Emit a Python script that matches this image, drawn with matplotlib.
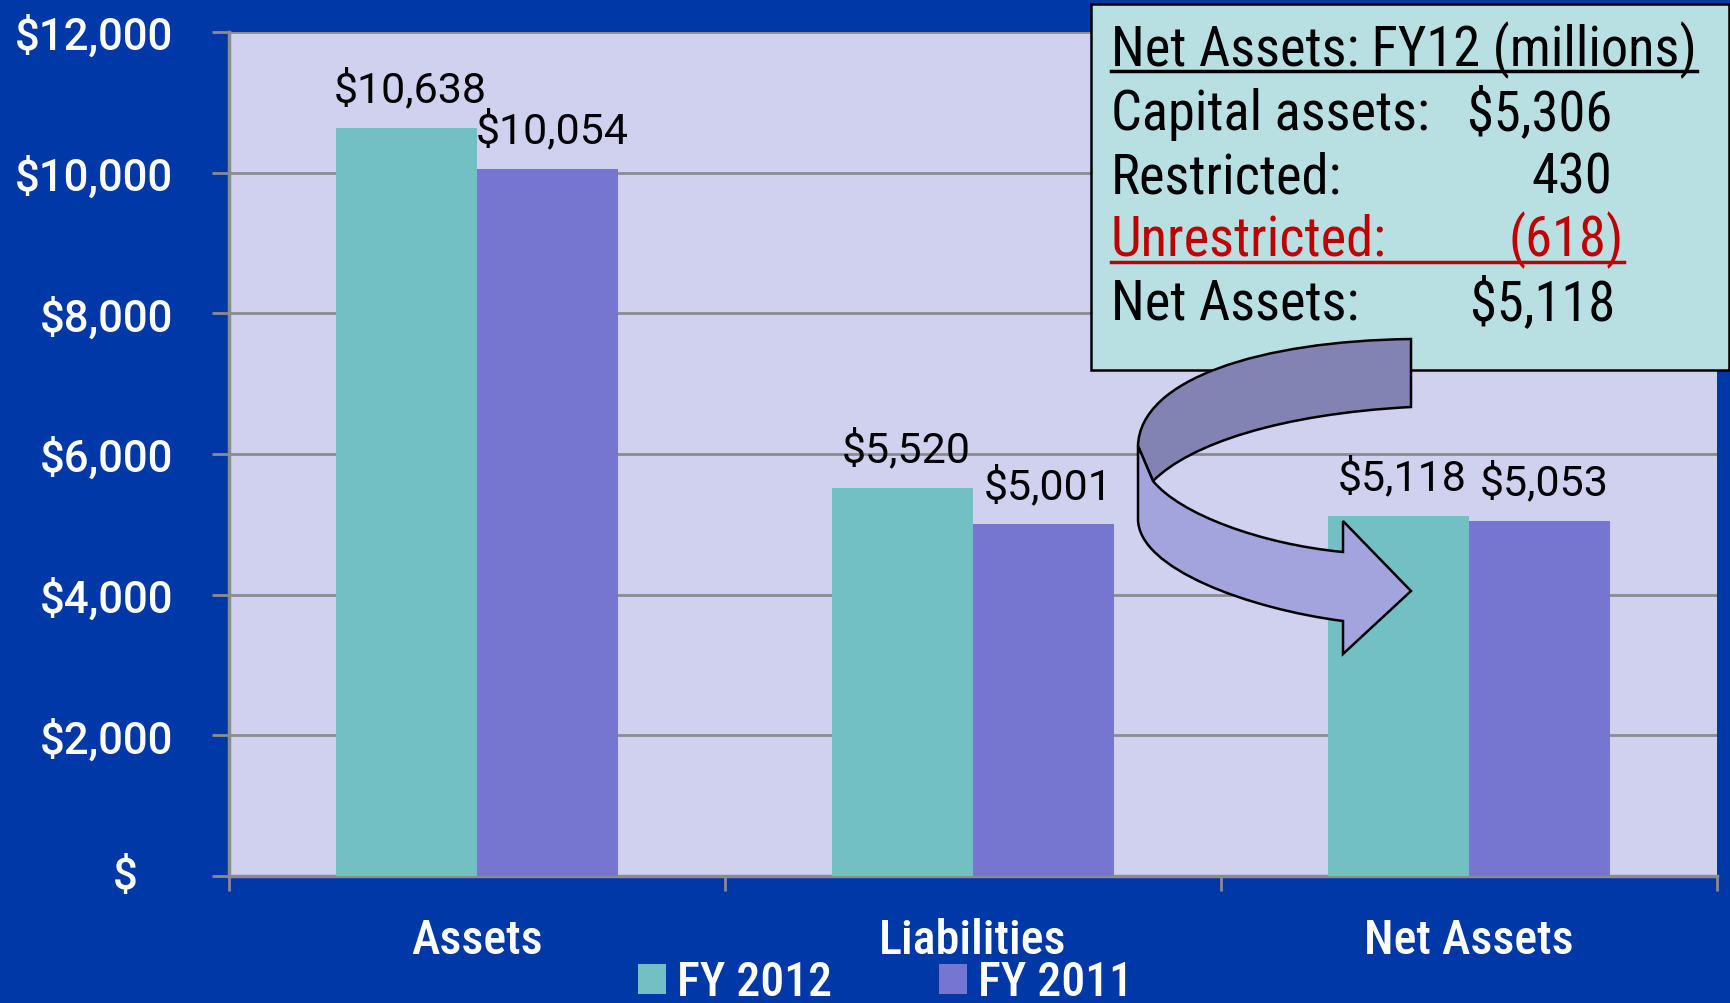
import matplotlib
matplotlib.use("Agg")
import matplotlib.pyplot as plt
from matplotlib import font_manager
from matplotlib.patches import Rectangle, PathPatch, Patch
from matplotlib.path import Path
from matplotlib.transforms import Affine2D
from matplotlib.ticker import FuncFormatter, FixedLocator
import numpy as np

# ---------------- data ----------------
categories = ["Assets", "Liabilities", "Net Assets"]
fy2012 = [10638, 5520, 5118]
fy2011 = [10054, 5001, 5053]
series_names = ["FY 2012", "FY 2011"]
y_ticks = [0, 2000, 4000, 6000, 8000, 10000, 12000]

box_title = "Net Assets: FY12 (millions)"
box_labels = ["Capital assets:", "Restricted:", "Unrestricted:", "Net Assets:"]
box_values = ["$5,306", "430", "(618)", "$5,118"]

# ---------------- styling ----------------
W, H = 1731, 1004
BG = "#0038A8"
PLOT_BG = "#D0D0EF"
TEAL = "#72BFC4"
PURPLE = "#7676D1"
BOX_BG = "#B8E0E3"
GRID = "#8C8C8C"
RED = "#C00000"

ttf = font_manager.fontManager.ttflist
names = {f.name for f in ttf}
NARROW = None
for cand in ["Liberation Sans Narrow", "Roboto Condensed", "Open Sans Condensed",
             "Noto Sans Condensed", "Arial Narrow"]:
    if cand in names:
        NARROW = dict(family=cand)
        break
if NARROW is None:
    cond = [f for f in ttf if f.stretch in ("condensed", "semi-condensed") and f.style == "normal"]
    if cond:
        NARROW = dict(family=cond[0].name, stretch=cond[0].stretch)
    elif "Roboto" in names:
        NARROW = dict(family="Roboto")
    else:
        NARROW = dict(family="DejaVu Sans")
NUMF = dict(family="Roboto") if "Roboto" in names else dict(family="DejaVu Sans")

fig = plt.figure(figsize=(W / 100, H / 100), dpi=100, facecolor=BG)
renderer = fig.canvas.get_renderer()


def size_for(text, target_px, props, ref=40, **kw):
    t = fig.text(0, 0, text, fontsize=ref, **props, **kw)
    w = t.get_window_extent(renderer).width
    t.remove()
    return ref * target_px / w


fs_cat = size_for("Net Assets", 209, NARROW, weight="medium")
fs_leg = size_for("FY 2012", 155, NARROW, weight="medium")
fs_box = size_for(box_title, 586, NARROW)

ax = fig.add_axes([229 / W, 1 - 877 / H, (1717 - 229) / W, (877 - 33) / H])
ax.set_facecolor(PLOT_BG)

x = np.arange(len(categories))
bw = 0.285
b1 = ax.bar(x - bw / 2, fy2012, bw, color=TEAL, zorder=3, label=series_names[0])
b2 = ax.bar(x + bw / 2, fy2011, bw, color=PURPLE, zorder=3, label=series_names[1])

for bars, vals in ((b1, fy2012), (b2, fy2011)):
    for rect, v in zip(bars, vals):
        ax.annotate(f"${v:,.0f}", xy=(rect.get_x() + rect.get_width() / 2, v),
                    xytext=(3, 19), textcoords="offset points",
                    ha="center", va="baseline", fontsize=31, color="black",
                    zorder=5, **NUMF)

ax.set_xlim(-0.5, 2.5)
ax.set_ylim(0, 12000)

# y axis
ax.yaxis.set_major_locator(FixedLocator(y_ticks))
ax.yaxis.set_major_formatter(FuncFormatter(lambda v, p: "" if v == 0 else f"${v:,.0f}"))
ax.tick_params(axis="y", which="major", length=12, width=2, color=GRID,
               labelcolor="white", labelsize=31.5, pad=28, direction="out")
for lab in ax.get_yticklabels():
    lab.set_fontfamily(NUMF["family"])
    lab.set_fontweight("medium")
ax.annotate("$", xy=(0, 0), xycoords=("axes fraction", "data"),
            xytext=(-75, 0), textcoords="offset points", ha="center", va="center",
            fontsize=31.5, color="white", weight="medium", annotation_clip=False, **NUMF)
ax.grid(axis="y", color=GRID, linewidth=2, zorder=1)
ax.set_axisbelow(True)

# x axis: ticks at category boundaries, labels at centers
ax.xaxis.set_major_locator(FixedLocator([-0.5, 0.5, 1.5, 2.5]))
ax.xaxis.set_major_formatter(FuncFormatter(lambda v, p: ""))
ax.xaxis.set_minor_locator(FixedLocator(list(x)))
ax.xaxis.set_minor_formatter(FuncFormatter(lambda v, p: categories[int(round(v))]))
ax.tick_params(axis="x", which="major", length=11, width=2, color=GRID, direction="out")
ax.tick_params(axis="x", which="minor", length=0, labelcolor="white", labelsize=fs_cat, pad=29.5)
for lab in ax.get_xticklabels(minor=True):
    lab.set_fontfamily(NARROW["family"])
    lab.set_fontweight("medium")
    if "stretch" in NARROW:
        lab.set_fontstretch(NARROW["stretch"])

for s in ("top", "right"):
    ax.spines[s].set_visible(False)
for s in ("left", "bottom"):
    ax.spines[s].set_color(GRID)
    ax.spines[s].set_linewidth(2.5)

# legend
handles = [Patch(facecolor=TEAL), Patch(facecolor=PURPLE)]
leg_px = fs_leg * 100 / 72
leg = fig.legend(handles, series_names, loc="center", bbox_to_anchor=(802 * 1.104 / W, 1 - 983.5 / H),
                 ncol=2, frameon=False, handlelength=28 / leg_px, handleheight=28 / leg_px,
                 handletextpad=11 / leg_px, columnspacing=107 / leg_px, borderpad=0,
                 prop=font_manager.FontProperties(size=fs_leg, weight="medium", **NARROW))
for t in leg.get_texts():
    t.set_color("white")

# ---------------- text box ----------------
def px(xp, yp):
    return xp / W, 1 - yp / H

bx0, by0, bx1, by1 = 1091, 5, 1729, 371
fig.patches.append(Rectangle(px(bx0, by1), (bx1 - bx0) / W, (by1 - by0) / H,
                             transform=fig.transFigure, facecolor=BOX_BG,
                             edgecolor="black", linewidth=1.8, zorder=5))
fig.text(*px(1111, 66), box_title, fontsize=fs_box, color="black", ha="left",
         va="baseline", zorder=6, **NARROW)
fig.add_artist(plt.Line2D([1111 / W, 1697 / W], [1 - 72 / H] * 2, transform=fig.transFigure,
                          color="black", linewidth=2.5, zorder=6))
baselines = [130, 193, 256, 320]
rights = [1612, 1612, 1624, 1615]
for lab, val, yb, xr in zip(box_labels, box_values, baselines, rights):
    c = RED if lab.startswith("Unres") else "black"
    fig.text(*px(1111, yb), lab, fontsize=fs_box, color=c, ha="left", va="baseline",
             zorder=6, **NARROW)
    fig.text(*px(xr, yb), val, fontsize=fs_box, color=c, ha="right", va="baseline",
             zorder=6, **NARROW)
fig.add_artist(plt.Line2D([1111 / W, 1624 / W], [1 - 263 / H] * 2, transform=fig.transFigure,
                          color=RED, linewidth=2.5, zorder=6))

# ---------------- curved arrow (decoration) ----------------
pix = Affine2D().scale(1 / W, -1 / H).translate(0, 1) + fig.transFigure
M, L, C, Z = Path.MOVETO, Path.LINETO, Path.CURVE4, Path.CLOSEPOLY
back_v = [(1411, 340), (1260, 342), (1140, 380), (1138, 447),
          (1153, 482), (1190, 445), (1280, 415), (1411, 408), (1411, 340)]
back_c = [M, C, C, C, L, C, C, C, Z]
front_v = [(1138, 447), (1138, 520), (1138, 570), (1250, 610), (1343, 622),
           (1343, 655), (1411, 592), (1343, 522), (1343, 553),
           (1260, 545), (1180, 515), (1153, 482), (1138, 447)]
front_c = [M, L, C, C, C, L, L, L, L, C, C, C, Z]
fig.patches.append(PathPatch(Path(back_v, back_c), transform=pix, facecolor="#8383B3",
                             edgecolor="black", linewidth=1.8, zorder=7))
fig.patches.append(PathPatch(Path(front_v, front_c), transform=pix, facecolor="#A3A3DD",
                             edgecolor="black", linewidth=1.8, zorder=8))

fig.savefig("out.png", dpi=100, facecolor=BG)
